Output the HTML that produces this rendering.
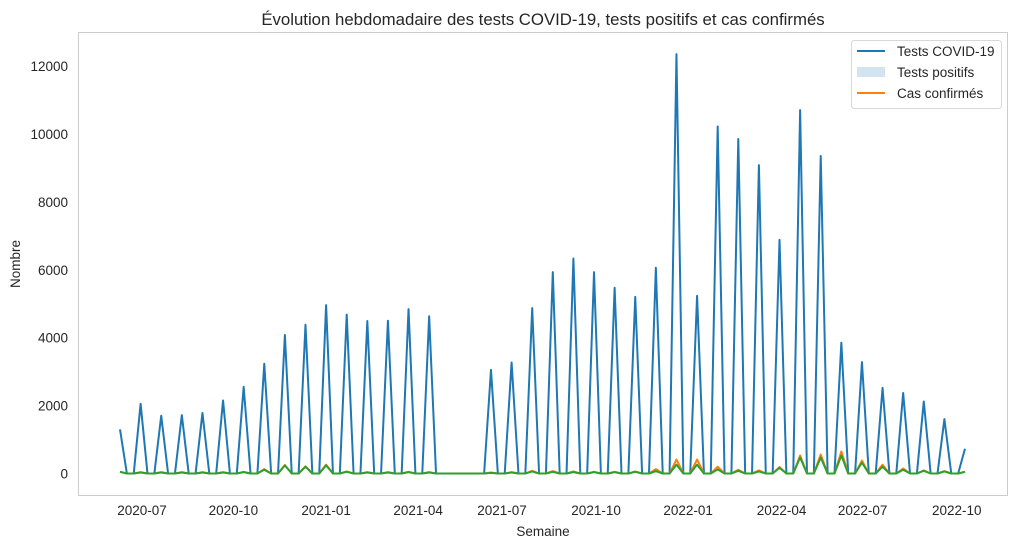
<!DOCTYPE html>
<html><head><meta charset="utf-8"><style>
body{margin:0;background:#fff;}
svg text{font-family:"Liberation Sans",Arial,sans-serif;fill:#262626;}
</style></head><body>
<svg width="1018" height="548" viewBox="0 0 1018 548">
<rect x="0" y="0" width="1018" height="548" fill="#fff"/>
<text x="543" y="25" font-size="16.8" text-anchor="middle">Évolution hebdomadaire des tests COVID-19, tests positifs et cas confirmés</text>
<rect x="78.5" y="32.5" width="929" height="463" fill="none" stroke="#cccccc"/>
<g id="yticks"></g>
<g id="xticks"></g>
<text x="20" y="264" font-size="13.5" text-anchor="middle" transform="rotate(-90 20 264)">Nombre</text>
<text x="543" y="536" font-size="13.5" text-anchor="middle">Semaine</text>
<g id="series"></g>
<g>
<rect x="851.5" y="40.5" width="150" height="68" rx="3" fill="#fff" stroke="#d8d8d8"/>
<line x1="857" y1="51" x2="885" y2="51" stroke="#1f77b4" stroke-width="2"/>
<text x="897" y="56" font-size="13.5">Tests COVID-19</text>
<rect x="857" y="67" width="28" height="10" fill="#1f77b4" fill-opacity="0.2"/>
<text x="897" y="77" font-size="13.5">Tests positifs</text>
<line x1="857" y1="93" x2="885" y2="93" stroke="#ff7f0e" stroke-width="2"/>
<text x="897" y="98" font-size="13.5">Cas confirmés</text>
</g>
</svg>
<script>
const yTicks=[0,2000,4000,6000,8000,10000,12000];
const xTickLabels=["2020-07","2020-10","2021-01","2021-04","2021-07","2021-10","2022-01","2022-04","2022-07","2022-10"];
const xTickIndex=[3.2,16.5,30,43.4,55.6,69.3,82.7,96.3,108.1,121.8];
const tests=[1300,0,0,2050,0,0,1700,0,0,1720,0,0,1780,0,0,2150,0,0,2550,0,0,3230,0,0,4080,0,0,4380,0,0,4960,0,0,4680,0,0,4490,0,0,4500,0,0,4840,0,0,4630,0,0,0,0,0,0,0,0,3050,0,0,3270,0,0,4870,0,0,5930,0,0,6330,0,0,5930,0,0,5470,0,0,5200,0,0,6060,0,0,12350,0,0,5230,0,0,10220,0,0,9850,0,0,9080,0,0,6880,0,0,10700,0,0,9350,0,0,3850,0,0,3280,0,0,2520,0,0,2370,0,0,2120,0,0,1600,0,0,730];
const cas=[50,0,0,40,0,0,40,0,0,40,0,0,40,0,0,40,0,0,50,0,0,130,0,0,250,0,0,210,0,0,260,0,0,60,0,0,40,0,0,40,0,0,50,0,0,40,0,0,0,0,0,0,0,0,30,0,0,40,0,0,80,0,0,70,0,0,60,0,0,50,0,0,50,0,0,60,0,0,130,0,0,410,0,0,410,0,0,200,0,0,110,0,0,90,0,0,190,0,0,530,0,0,560,0,0,650,0,0,380,0,0,260,0,0,150,0,0,90,0,0,70,0,0,50];
const positifs=[50,0,0,30,0,0,30,0,0,30,0,0,30,0,0,30,0,0,40,0,0,110,0,0,240,0,0,200,0,0,240,0,0,50,0,0,30,0,0,30,0,0,40,0,0,30,0,0,0,0,0,0,0,0,20,0,0,30,0,0,60,0,0,50,0,0,40,0,0,40,0,0,40,0,0,50,0,0,70,0,0,260,0,0,260,0,0,120,0,0,80,0,0,60,0,0,170,0,0,470,0,0,470,0,0,530,0,0,320,0,0,200,0,0,110,0,0,80,0,0,60,0,0,50];
const NS='http://www.w3.org/2000/svg';
function xs(i){return 120+i*(845/(tests.length-1));}
function ys(v){return 473.5-v*(407.5/12000);}
const yg=document.getElementById('yticks');
yTicks.forEach(v=>{const t=document.createElementNS(NS,'text');
t.setAttribute('x',68);t.setAttribute('y',ys(v)+5);t.setAttribute('font-size','13.5');t.setAttribute('text-anchor','end');


t.textContent=v;yg.appendChild(t);});
const xg=document.getElementById('xticks');
xTickLabels.forEach((l,k)=>{const t=document.createElementNS(NS,'text');
t.setAttribute('x',xs(xTickIndex[k]));t.setAttribute('y',515);t.setAttribute('font-size','13.5');t.setAttribute('text-anchor','middle');


t.textContent=l;xg.appendChild(t);});
const sg=document.getElementById('series');
function line(arr,color,name){const p=document.createElementNS(NS,'polyline');
p.setAttribute('points',arr.map((v,i)=>xs(i).toFixed(2)+','+ys(v).toFixed(2)).join(' '));
p.setAttribute('fill','none');p.setAttribute('stroke',color);p.setAttribute('stroke-width','2');p.setAttribute('stroke-linejoin','round');


sg.appendChild(p);}
line(tests,'#1f77b4','tests-line');
line(cas,'#ff7f0e','cas-line');
line(positifs,'#2ca02c','positifs-line');
</script>
</body></html>
